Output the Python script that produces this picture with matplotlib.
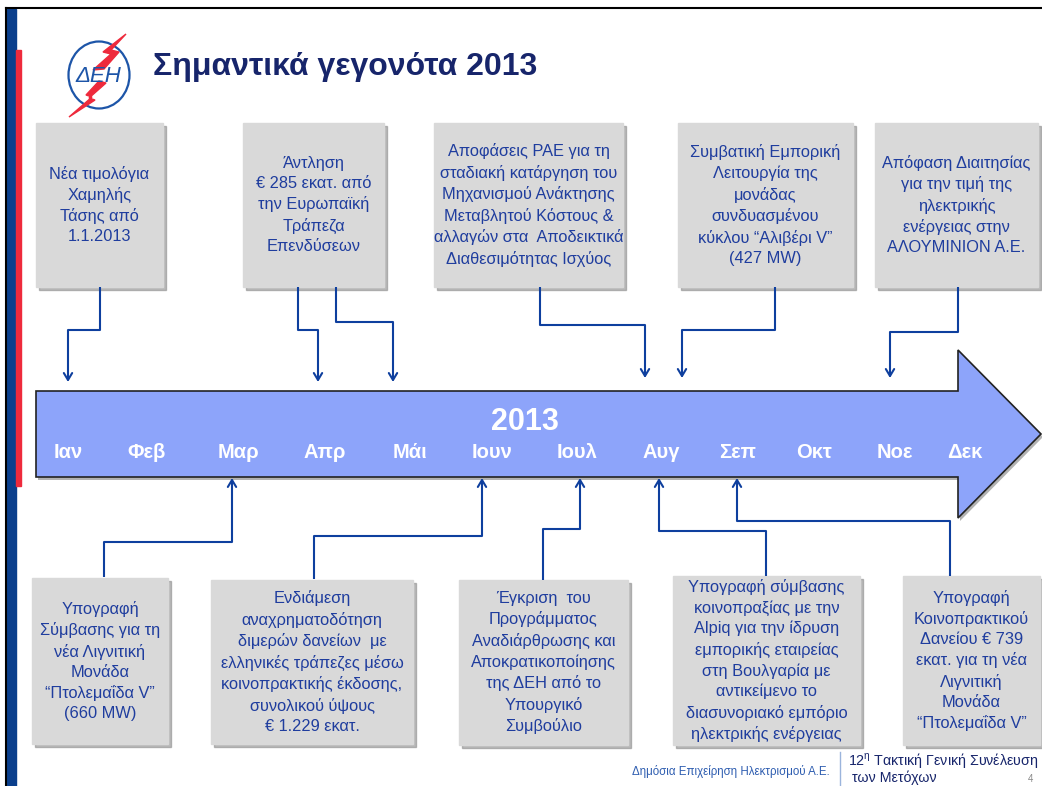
import matplotlib.pyplot as plt
from matplotlib.patches import Rectangle, Polygon, Ellipse

plt.rcParams['font.family'] = ['Liberation Sans', 'DejaVu Sans']

# slide content
title = 'Σημαντικά γεγονότα 2013'
year = '2013'
months = ['Ιαν', 'Φεβ', 'Μαρ', 'Απρ', 'Μάι', 'Ιουν', 'Ιουλ', 'Αυγ', 'Σεπ', 'Οκτ', 'Νοε', 'Δεκ']
month_x = [68, 147, 238, 325, 410, 492, 577, 661, 738, 814, 895, 965]

top_texts = [
    'Νέα τιμολόγια\nΧαμηλής\nΤάσης από\n1.1.2013',
    'Άντληση\n€ 285 εκατ. από\nτην Ευρωπαϊκή\nΤράπεζα\nΕπενδύσεων',
    'Αποφάσεις ΡΑΕ για τη\nσταδιακή κατάργηση του\nΜηχανισμού Ανάκτησης\nΜεταβλητού Κόστους &\nαλλαγών στα  Αποδεικτικά\nΔιαθεσιμότητας Ισχύος',
    'Συμβατική Εμπορική\nΛειτουργία της\nμονάδας\nσυνδυασμένου\nκύκλου “Αλιβέρι V”\n(427 MW)',
    'Απόφαση Διαιτησίας\nγια την τιμή της\nηλεκτρικής\nενέργειας στην\nΑΛΟΥΜΙΝΙΟΝ Α.Ε.',
]
bottom_texts = [
    'Υπογραφή\nΣύμβασης για τη\nνέα Λιγνιτική\nΜονάδα\n“Πτολεμαΐδα V”\n(660 MW)',
    'Ενδιάμεση\nαναχρηματοδότηση\nδιμερών δανείων  με\nελληνικές τράπεζες μέσω\nκοινοπρακτικής έκδοσης,\nσυνολικού ύψους\n€ 1.229 εκατ.',
    'Έγκριση  του\nΠρογράμματος\nΑναδιάρθρωσης και\nΑποκρατικοποίησης\nτης ΔΕΗ από το\nΥπουργικό\nΣυμβούλιο',
    'Υπογραφή σύμβασης\nκοινοπραξίας με την\nAlpiq για την ίδρυση\nεμπορικής εταιρείας\nστη Βουλγαρία με\nαντικείμενο το\nδιασυνοριακό εμπόριο\nηλεκτρικής ενέργειας',
    'Υπογραφή\nΚοινοπρακτικού\nΔανείου € 739\nεκατ. για τη νέα\nΛιγνιτική\nΜονάδα\n“Πτολεμαΐδα V”',
]
footer_left = 'Δημόσια Επιχείρηση Ηλεκτρισμού Α.Ε.'
footer_right = ['12$^{\\mathregular{η}}$ Τακτική Γενική Συνέλευση', 'των Μετόχων']
page = '4'

# layout (pixels)
top_boxes = [(36, 163, 123, 287), (243, 384, 123, 287), (434, 623, 123, 287),
             (678, 853, 123, 287), (875, 1038, 123, 287)]
bottom_boxes = [(32, 168, 578, 744), (211, 413, 580, 744), (459, 628, 580, 745),
                (673, 860, 576, 745), (903, 1040, 576, 745)]
top_links = [
    [(100, 287), (100, 330), (68, 330), (68, 382)],
    [(298, 287), (298, 330), (318, 330), (318, 382)],
    [(336, 287), (336, 322), (393, 322), (393, 382)],
    [(540, 287), (540, 325), (645, 325), (645, 378)],
    [(775, 287), (775, 330), (682, 330), (682, 378)],
    [(958, 287), (958, 332), (890, 332), (890, 378)],
]
bottom_links = [
    [(104, 577), (104, 542), (232, 542), (232, 478)],
    [(314, 579), (314, 536), (482, 536), (482, 478)],
    [(543, 580), (543, 529), (580, 529), (580, 478)],
    [(766, 576), (766, 531), (659, 531), (659, 478)],
    [(950, 576), (950, 521), (737, 521), (737, 478)],
]

navy = '#17256b'
blue = '#1f3d9e'
link = '#0e3f9e'

fig = plt.figure(figsize=(10.42, 7.86), dpi=100)
ax = fig.add_axes([0, 0, 1, 1])
ax.set_xlim(0, 1042)
ax.set_ylim(786, 0)
ax.axis('off')

# slide frame and side stripes
ax.plot([6, 1042], [8, 8], color='black', lw=1.5)
ax.plot([6, 6], [8, 786], color='black', lw=1.5)
ax.add_patch(Rectangle((7, 9), 9, 777, color='#0b3f8c'))
ax.add_patch(Rectangle((16, 50), 5, 436, color='#ee2a3c'))

# logo
ax.add_patch(Ellipse((99, 75), 61, 67, fill=False, ec='#1d55a8', lw=1.6))
ax.add_patch(Polygon([(126, 34), (103, 52), (111, 54), (93, 70), (104, 69), (119, 52), (111, 50)],
                     color='#ee2a3c'))
ax.add_patch(Polygon([(99, 81), (86, 95), (92, 97), (69, 117), (95, 100), (89, 98), (106, 83)],
                     color='#ee2a3c'))
ax.text(98, 77, 'ΔΕΗ', color='#1d55a8', fontsize=16, style='italic',
        ha='center', va='center')

ax.text(153, 67, title, color=navy, fontsize=23, fontweight='bold', va='center')

# timeline arrow
arrow = Polygon([(36, 391), (958, 391), (958, 350), (1041, 434), (958, 518), (958, 477), (36, 477)],
                closed=True, fc='#8da4fa', ec='#222222', lw=1.2)
shadow = Polygon([(38, 394), (960, 394), (960, 353), (1043, 437), (960, 521), (960, 480), (38, 480)],
                 closed=True, fc='#555555', ec='none', alpha=0.45)
ax.add_patch(shadow)
ax.add_patch(arrow)
ax.text(525, 422, year, color='white', fontsize=22, fontweight='bold', ha='center', va='center')
for m, x in zip(months, month_x):
    ax.text(x, 452, m, color='white', fontsize=14.5, fontweight='bold', ha='center', va='center')


def box(x0, x1, y0, y1, txt):
    ax.add_patch(Rectangle((x0 + 3, y0 + 3), x1 - x0, y1 - y0, color='#8c8c8c', alpha=0.6))
    ax.add_patch(Rectangle((x0, y0), x1 - x0, y1 - y0, color='#d9d9d9'))
    ax.text((x0 + x1) / 2, (y0 + y1) / 2, txt, color=blue, fontsize=11.8,
            ha='center', va='center', multialignment='center', linespacing=1.42)


for (x0, x1, y0, y1), t in zip(top_boxes, top_texts):
    box(x0, x1, y0, y1, t)
for (x0, x1, y0, y1), t in zip(bottom_boxes, bottom_texts):
    box(x0, x1, y0, y1, t)

for pts in top_links + bottom_links:
    xs = [p[0] for p in pts[:-1]]
    ys = [p[1] for p in pts[:-1]]
    ax.plot(xs, ys, color=link, lw=1.5, solid_capstyle='butt')
    ax.annotate('', xy=pts[-1], xytext=pts[-2],
                arrowprops=dict(arrowstyle='->,head_length=0.5,head_width=0.3',
                                color=link, lw=1.5, shrinkA=0, shrinkB=0))

# footer
ax.text(830, 772, footer_left, color='#2e5db0', fontsize=8.3, ha='right', va='center')
ax.plot([840, 840], [752, 786], color='#9bb4dc', lw=1)
ax.text(848, 760, footer_right[0], color=navy, fontsize=10.3, va='center')
ax.text(852, 778, footer_right[1], color=navy, fontsize=10.3, va='center')
ax.text(1030, 779, page, color='#888888', fontsize=7, ha='center', va='center')

fig.savefig('out.png', dpi=100)
